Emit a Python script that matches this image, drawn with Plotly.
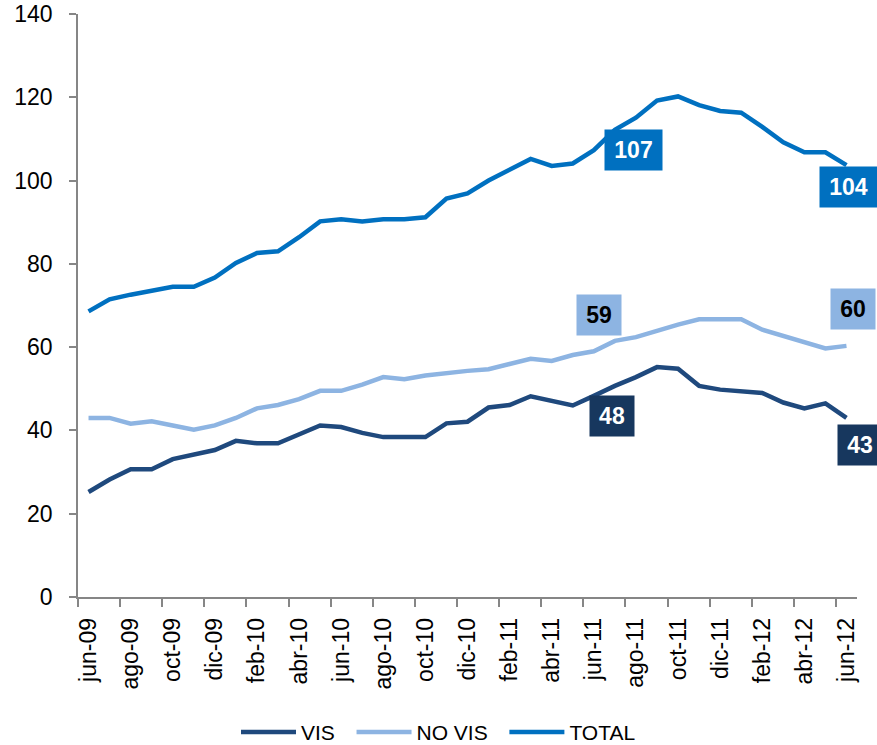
import plotly.graph_objects as go

months = ["jun-09","jul-09","ago-09","sep-09","oct-09","nov-09","dic-09","ene-10","feb-10","mar-10",
          "abr-10","may-10","jun-10","jul-10","ago-10","sep-10","oct-10","nov-10","dic-10","ene-11",
          "feb-11","mar-11","abr-11","may-11","jun-11","jul-11","ago-11","sep-11","oct-11","nov-11",
          "dic-11","ene-12","feb-12","mar-12","abr-12","may-12","jun-12"]

vis = [25.2, 28.2, 30.7, 30.7, 33.1, 34.1, 35.3, 37.5, 36.9, 36.9,
       39.0, 41.2, 40.8, 39.4, 38.4, 38.4, 38.4, 41.7, 42.1, 45.5,
       46.1, 48.2, 47.1, 46.0, 48.3, 50.7, 52.8, 55.2, 54.8, 50.7,
       49.8, 49.4, 49.0, 46.7, 45.3, 46.5, 43.0]

no_vis = [43.0, 43.0, 41.6, 42.2, 41.2, 40.2, 41.2, 43.0, 45.3, 46.1,
          47.5, 49.5, 49.5, 51.0, 52.8, 52.3, 53.2, 53.8, 54.3, 54.7,
          56.0, 57.2, 56.7, 58.1, 59.0, 61.5, 62.4, 64.0, 65.4, 66.7,
          66.7, 66.7, 64.2, 62.7, 61.1, 59.7, 60.3]

total = [68.6, 71.5, 72.6, 73.6, 74.5, 74.5, 76.7, 80.2, 82.6, 83.0,
         86.4, 90.2, 90.7, 90.2, 90.7, 90.7, 91.2, 95.7, 96.9, 100.0,
         102.5, 105.2, 103.5, 104.1, 107.3, 112.2, 115.1, 119.2, 120.2, 118.1,
         116.7, 116.3, 112.9, 109.2, 106.8, 106.8, 103.7]

series_names = ["VIS", "NO VIS", "TOTAL"]
series_colors = ["#1F497D", "#8DB4E2", "#0070C0"]
label_box_colors = ["#17375E", "#8DB4E2", "#0070C0"]
label_text_colors = ["white", "black", "white"]

x = list(range(len(months)))
tick_idx = list(range(0, len(months), 2))
tick_text = [months[i] for i in tick_idx]

fig = go.Figure()
for k, (name, vals, col) in enumerate(zip(series_names, [vis, no_vis, total], series_colors)):
    # trailing non-breaking spaces widen the gap between legend entries
    legend_name = name + ("\u00a0\u00a0" if k < len(series_names) - 1 else "")
    fig.add_trace(go.Scatter(x=x, y=vals, mode="lines", name=legend_name,
                             line=dict(color=col, width=4.5), hoverinfo="skip"))

# data labels (jun-11 and jun-12)
i_mid = months.index("jun-11")
i_end = len(months) - 1
label_specs = [
    # series idx, point idx, xshift, yshift, width
    (2, i_mid, 40, 0, 57),
    (2, i_end, 2, -22, 57),
    (1, i_mid, 5, 36, 44),
    (1, i_end, 7, 37, 44),
    (0, i_mid, 18, -20, 44),
    (0, i_end, 14, -27, 44),
]
all_vals = [vis, no_vis, total]
for s, i, xs, ys, w in label_specs:
    v = all_vals[s][i]
    fig.add_annotation(x=x[i], y=v, xref="x", yref="y", text="<b>%d</b>" % round(v),
                       showarrow=False, xshift=xs, yshift=ys,
                       bgcolor=label_box_colors[s], width=w, height=40, borderpad=0,
                       font=dict(family="Liberation Sans", size=23, color=label_text_colors[s]))

axis_col = "#868686"
fig.update_layout(
    width=877, height=745,
    margin=dict(l=78, r=20, t=14, b=148, autoexpand=False),
    plot_bgcolor="white", paper_bgcolor="white",
    font=dict(family="Liberation Sans", size=22, color="black"),
    showlegend=True,
    legend=dict(orientation="h", xref="container", yref="container",
                x=0.5, xanchor="center", y=0.017, yanchor="middle",
                font=dict(size=21), itemwidth=55,
                bgcolor="rgba(0,0,0,0)"),
    xaxis=dict(range=[-0.5, len(months) - 0.5], tickmode="array", tickvals=tick_idx, ticktext=tick_text,
               tickangle=-90, ticks="", showgrid=False, zeroline=False, automargin=False,
               showline=True, linecolor=axis_col, linewidth=1.5,
               ticklabelstandoff=10,
               minor=dict(tick0=-0.5, dtick=2, ticks="outside", ticklen=8,
                          tickcolor=axis_col, tickwidth=1.5, showgrid=False),
               tickfont=dict(size=23)),
    yaxis=dict(range=[0, 140], dtick=20, showgrid=False, zeroline=False, automargin=False,
               showline=True, linecolor=axis_col, linewidth=1.5,
               ticks="outside", ticklen=7, tickcolor=axis_col, tickwidth=1.5,
               ticklabelstandoff=12, tickfont=dict(size=23)),
)

fig.write_html("out.html", config={"displayModeBar": False},
               post_script="document.body.style.margin='0px';")
